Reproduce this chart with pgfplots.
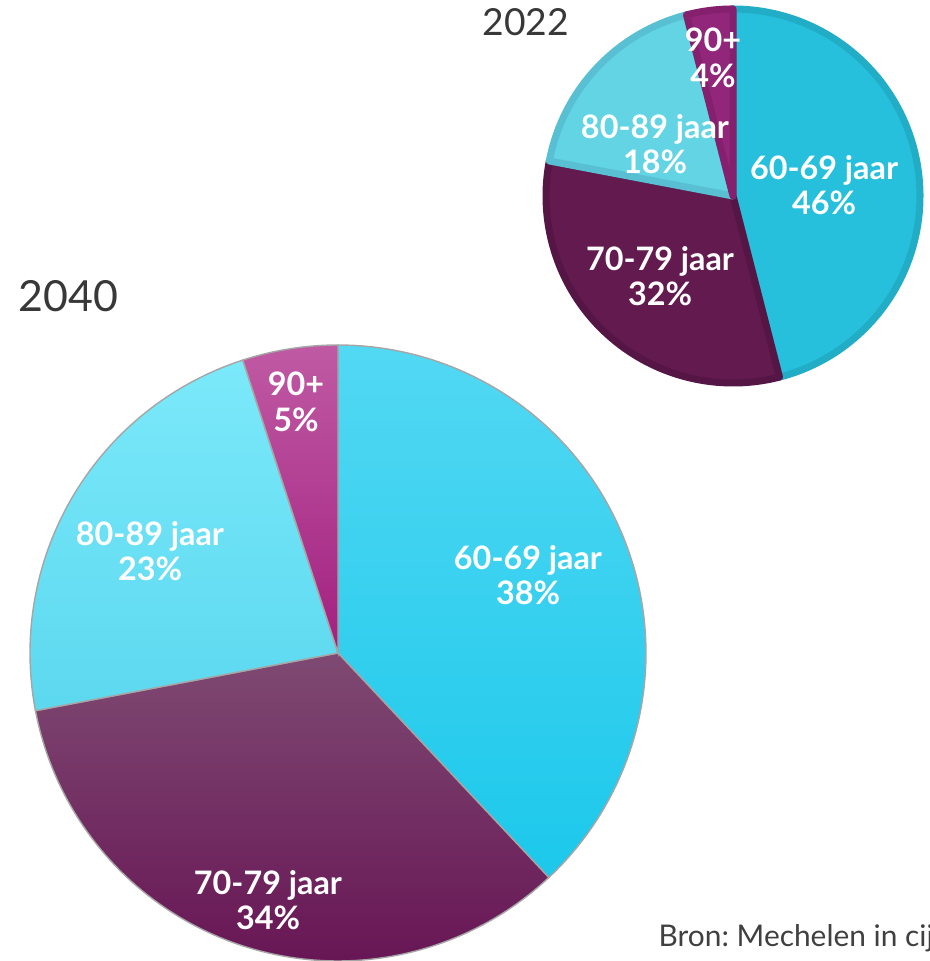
\documentclass[border=0pt]{standalone}
\usepackage{pgfplots}
\pgfplotsset{compat=1.18}
\usepackage{fontspec}
\setmainfont{Lato}
\frenchspacing

\definecolor{sA}{HTML}{27C0DC}\definecolor{sAd}{HTML}{22ADC7}
\definecolor{sB}{HTML}{621A4F}\definecolor{sBd}{HTML}{561645}
\definecolor{sC}{HTML}{62D4E4}\definecolor{sCd}{HTML}{58C0D2}
\definecolor{sD}{HTML}{92267A}\definecolor{sDd}{HTML}{84206E}

\definecolor{bAt}{HTML}{52D8F3}\definecolor{bAb}{HTML}{1CC8EB}
\definecolor{bBt}{HTML}{7E4A72}\definecolor{bBb}{HTML}{681655}
\definecolor{bCt}{HTML}{7BE9FA}\definecolor{bCb}{HTML}{5CD8EF}
\definecolor{bDt}{HTML}{C05AA4}\definecolor{bDb}{HTML}{A2207F}
\definecolor{titlegray}{HTML}{383838}

% #1 cx, #2 cy, #3 r, #4 cumulative % at start, #5 cumulative % at end, #6 style
\newcommand{\slice}[6]{%
  \addplot[#6, domain={90-3.6*(#5)}:{90-3.6*(#4)}, samples=90, variable=\t]
    ({#1+#3*cos(\t)},{#2+#3*sin(\t)}) -- (axis cs:#1,#2) -- cycle;}

\begin{document}
\begin{tikzpicture}
\begin{axis}[
  hide axis, scale only axis,
  width=9.29cm, height=9.61cm,
  xmin=0, xmax=929, ymin=0, ymax=961,
  clip=true,
]
% ---------- 2040 (38, 34, 23, 5) ----------
\slice{338}{308}{308}{0}{38}{top color=bAt, bottom color=bAb, draw=black!35, line width=0.4pt}
\slice{338}{308}{308}{38}{72}{top color=bBt, bottom color=bBb, draw=black!35, line width=0.4pt}
\slice{338}{308}{308}{72}{95}{top color=bCt, bottom color=bCb, draw=black!35, line width=0.4pt}
\slice{338}{308}{308}{95}{100}{top color=bDt, bottom color=bDb, draw=black!35, line width=0.4pt}
% ---------- 2022 (46, 32, 18, 4) ----------
\slice{733}{765}{187}{0}{46}{fill=sA, draw=sAd, line width=2pt, line join=round}
\slice{733}{765}{187}{46}{78}{fill=sB, draw=sBd, line width=2pt, line join=round}
\slice{733}{765}{187}{78}{96}{fill=sC, draw=sCd, line width=2pt, line join=round}
\slice{733}{765}{187}{96}{100}{fill=sD, draw=sDd, line width=2pt, line join=round}

\tikzset{lab/.style={text=white, align=center, font=\bfseries\fontsize{9.2}{10.1}\selectfont, inner sep=0pt}}
\node[lab] at (axis cs:528,386) {60-69 jaar\\38\%};
\node[lab] at (axis cs:268,61) {70-79 jaar\\34\%};
\node[lab] at (axis cs:150,410) {80-89 jaar\\23\%};
\node[lab] at (axis cs:296,559) {90+\\5\%};

\node[lab] at (axis cs:824,776) {60-69 jaar\\46\%};
\node[lab] at (axis cs:660,685) {70-79 jaar\\32\%};
\node[lab] at (axis cs:655,817) {80-89 jaar\\18\%};
\node[lab] at (axis cs:713,903) {90+\\4\%};

\node[anchor=base west, inner sep=0pt, text=titlegray, font=\fontsize{10.6}{12}\selectfont] at (axis cs:482,925) {2022};
\node[anchor=base west, inner sep=0pt, text=titlegray, font=\fontsize{12.2}{14}\selectfont] at (axis cs:18,649) {2040};
\node[anchor=base west, inner sep=0pt, text=black!75, font=\fontsize{8.5}{10}\selectfont] at (axis cs:658,14) {Bron: Mechelen in cijfers};
\end{axis}
\pgfresetboundingbox
\path (current axis.south west) rectangle (current axis.north east);
\end{tikzpicture}
\end{document}
